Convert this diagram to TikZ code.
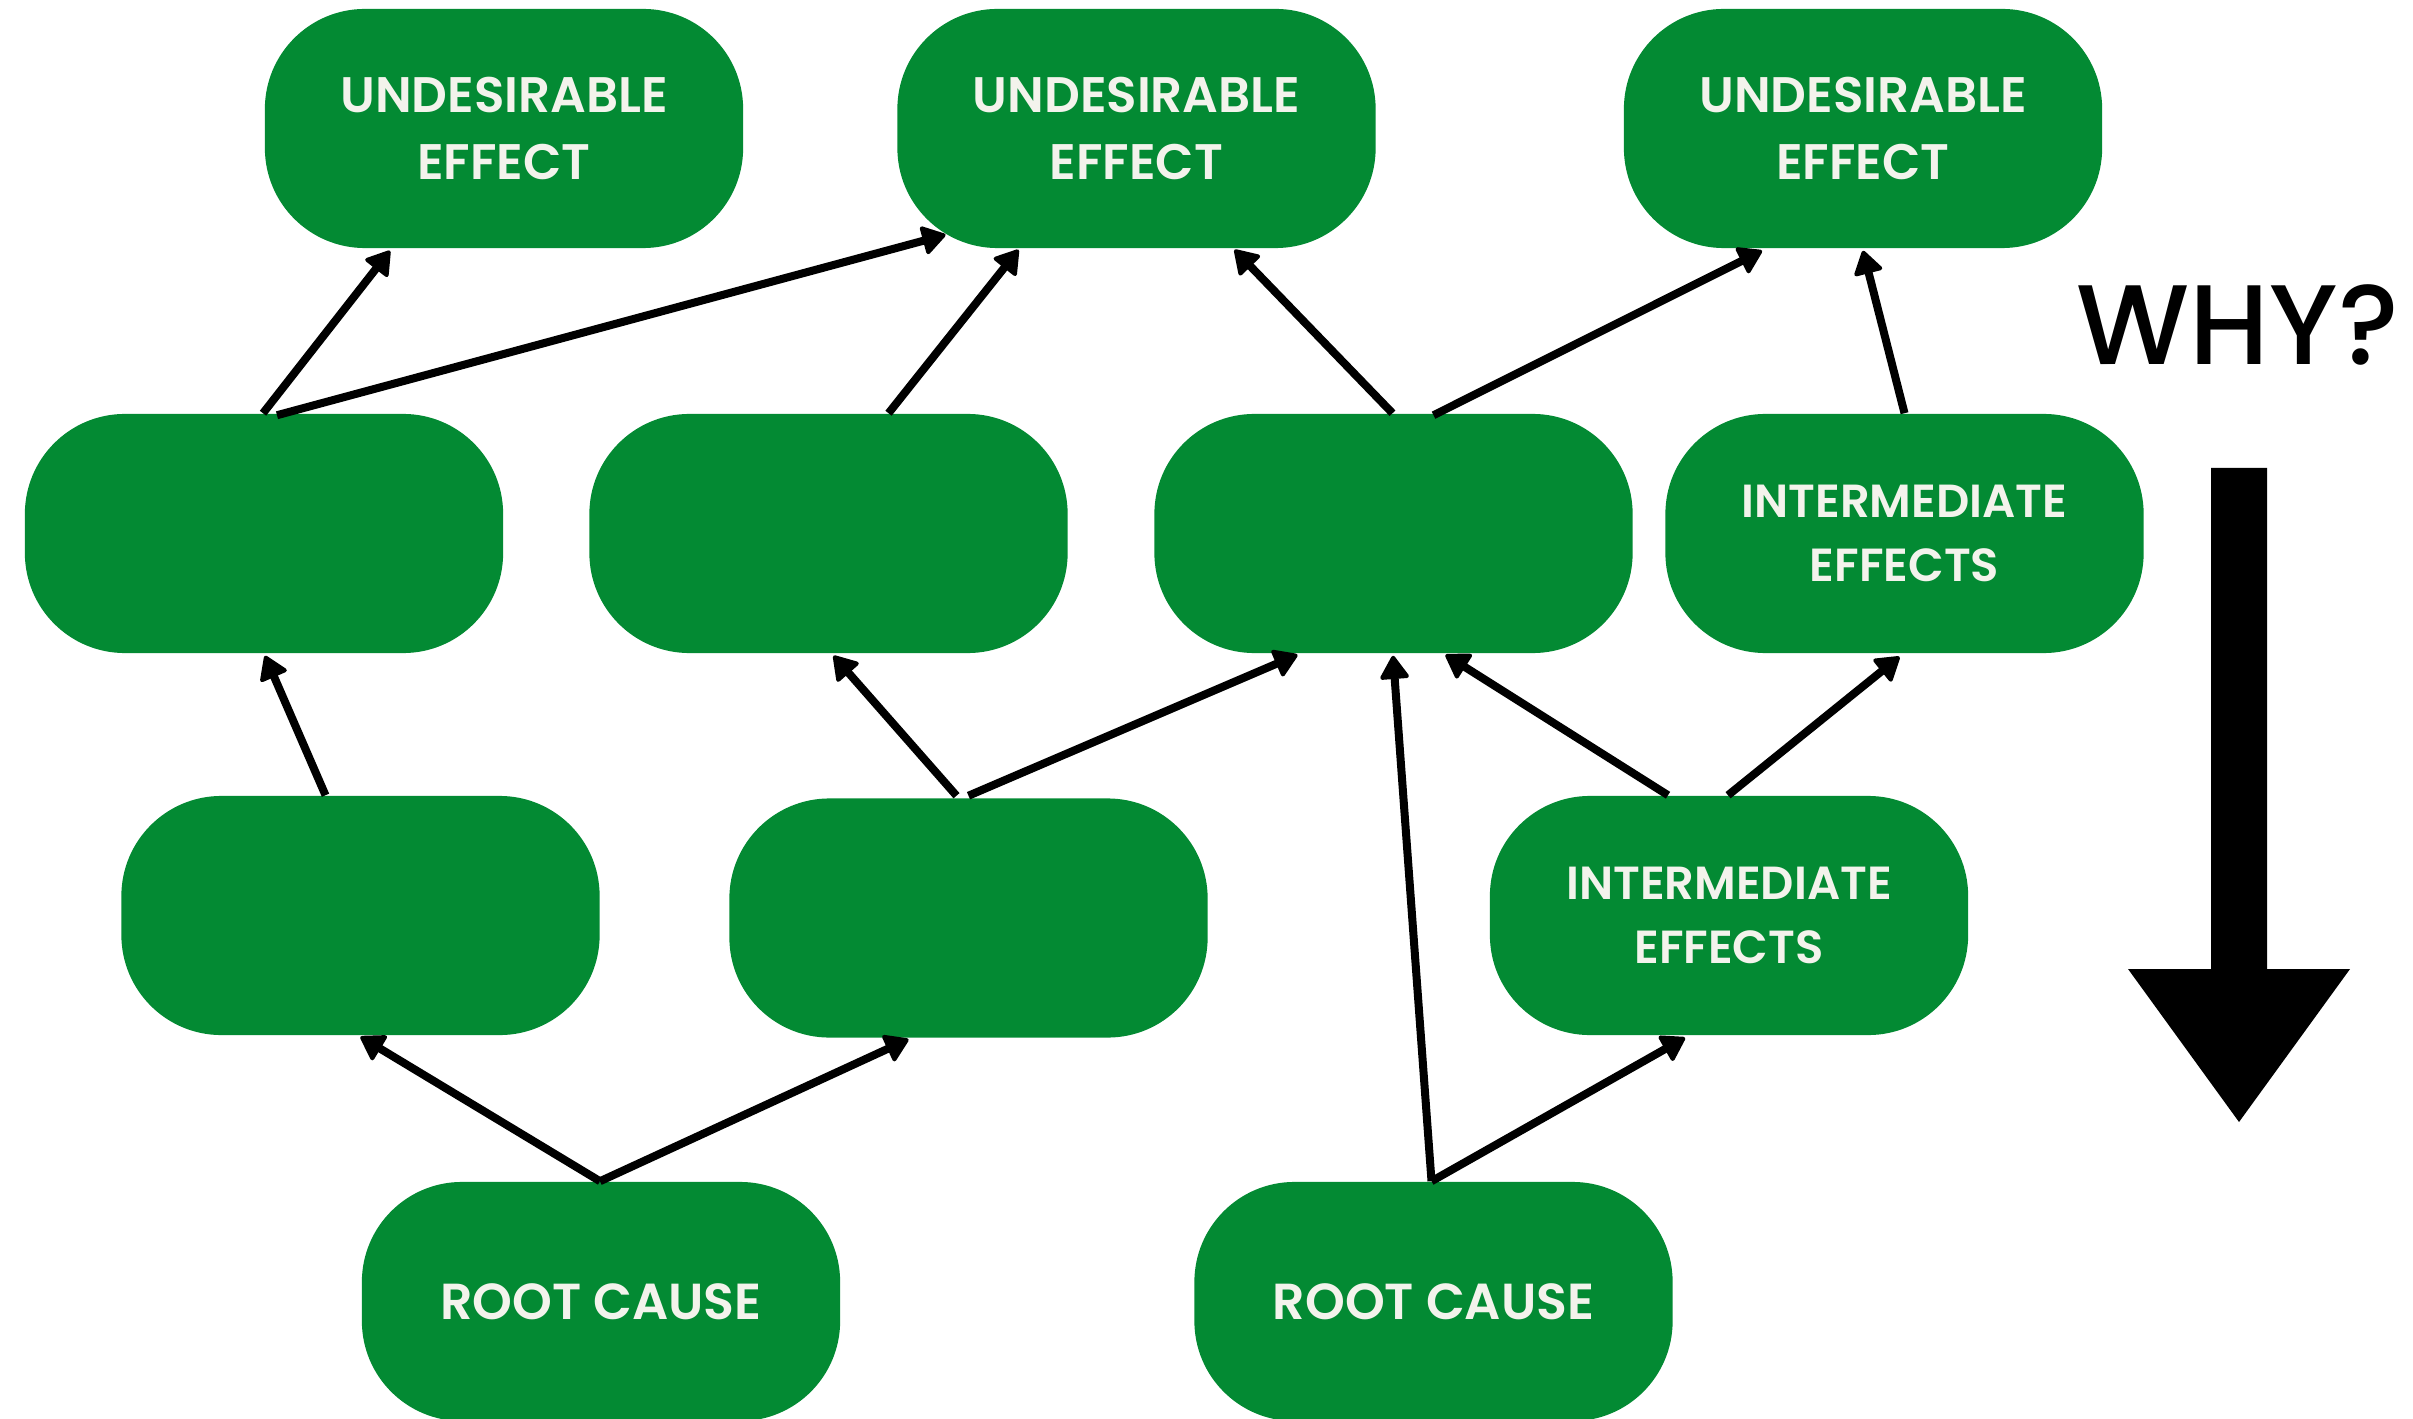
\documentclass[tikz,border=0pt]{standalone}
\usepackage{fontspec}
\setmainfont{Poppins}[BoldFont={Poppins SemiBold}]
\newfontfamily\whyfont{Poppins Medium}
\usetikzlibrary{arrows.meta,calc}
\definecolor{boxgreen}{RGB}{3,138,51}
\definecolor{boxtext}{RGB}{243,243,236}

\begin{document}
\begin{tikzpicture}[x=0.01cm,y=-0.01cm,
  box/.style={fill=boxgreen, rounded corners=1cm, minimum width=4.78cm,
    minimum height=2.39cm, inner sep=0pt, text=boxtext, align=center,
    font=\bfseries\fontsize{14.2}{18.8}\selectfont},
  rootbox/.style={box, font=\bfseries\fontsize{14.4}{18.8}\selectfont},
  midbox/.style={box, font=\bfseries\fontsize{13.2}{18}\selectfont},
  link/.style={line width=0.08cm, line cap=butt,
    -{Triangle[length=0.25cm,width=0.31cm,line width=0.04cm,round]}}]

\useasboundingbox (0,0) rectangle (2413,1419);
\clip (0,0) rectangle (2413,1419);

% top row: undesirable effects
\node[box] (ue1) at (504,128.5)  {UNDESIRABLE\\EFFECT};
\node[box] (ue2) at (1136.5,128.5) {UNDESIRABLE\\EFFECT};
\node[box] (ue3) at (1863,128.5) {UNDESIRABLE\\EFFECT};

% second row
\node[box] (m1) at (264,533.5) {};
\node[box] (m2) at (828.5,533.5) {};
\node[box] (m3) at (1393.5,533.5) {};
\node[midbox] (m4) at (1904.5,533.5) {INTERMEDIATE\\EFFECTS};

% third row
\node[box] (l1) at (360.5,915.5) {};
\node[box] (l2) at (968.5,918) {};
\node[midbox] (l3) at (1729,915.5) {INTERMEDIATE\\EFFECTS};

% bottom row: root causes
\node[rootbox] (r1) at (601,1301.5) {ROOT CAUSE};
\node[rootbox] (r2) at (1433.5,1301.5) {ROOT CAUSE};

% connectors
\draw[link] ($(m1.north)+(-1,0)$)   -- ($(ue1.south)+(-114,2)$);
\draw[link] ($(m1.north)+(13,2)$)   -- ($(ue2.south)+(-191,-14)$);
\draw[link] ($(m2.north)+(60,0)$)   -- ($(ue2.south)+(-118,1)$);
\draw[link] ($(m3.north)+(-1,0)$)   -- ($(ue2.south)+(98,1)$);
\draw[link] ($(m3.north)+(40,2)$)   -- ($(ue3.south)+(-101,2)$);
\draw[link] ($(m4.north)+(0,0)$)    -- ($(ue3.south)+(0,2)$);

\draw[link] ($(l1.north)+(-35,0)$)  -- ($(m1.south)+(1,2)$);
\draw[link] ($(l2.north)+(-12,-2)$) -- ($(m2.south)+(5,2)$);
\draw[link] ($(l2.north)+(0,-2)$)   -- ($(m3.south)+(-96,1)$);
\draw[link] ($(l3.north)+(-61,0)$)  -- ($(m3.south)+(52,1)$);
\draw[link] ($(l3.north)+(-1,0)$)   -- ($(m4.south)+(-5,3)$);

\draw[link] ($(r1.north)+(-1,0)$)   -- ($(l1.south)+(0,1)$);
\draw[link] ($(r1.north)+(-1,0)$)   -- ($(l2.south)+(-60,1)$);
\draw[link] ($(r2.north)+(-2,0)$)   -- ($(m3.south)+(-0.5,2)$);
\draw[link] ($(r2.north)+(-2,0)$)   -- ($(l3.south)+(-44,2)$);

% reading direction
\node[font=\whyfont\fontsize{32.2}{36}\selectfont, anchor=base, inner sep=0pt]
  (why) at (2238,365) {WHY?};
\fill (2211,468) -- (2267,468) -- (2267,969) -- (2350,969) -- (2239,1122)
  -- (2128,969) -- (2211,969) -- cycle;
\end{tikzpicture}
\end{document}
